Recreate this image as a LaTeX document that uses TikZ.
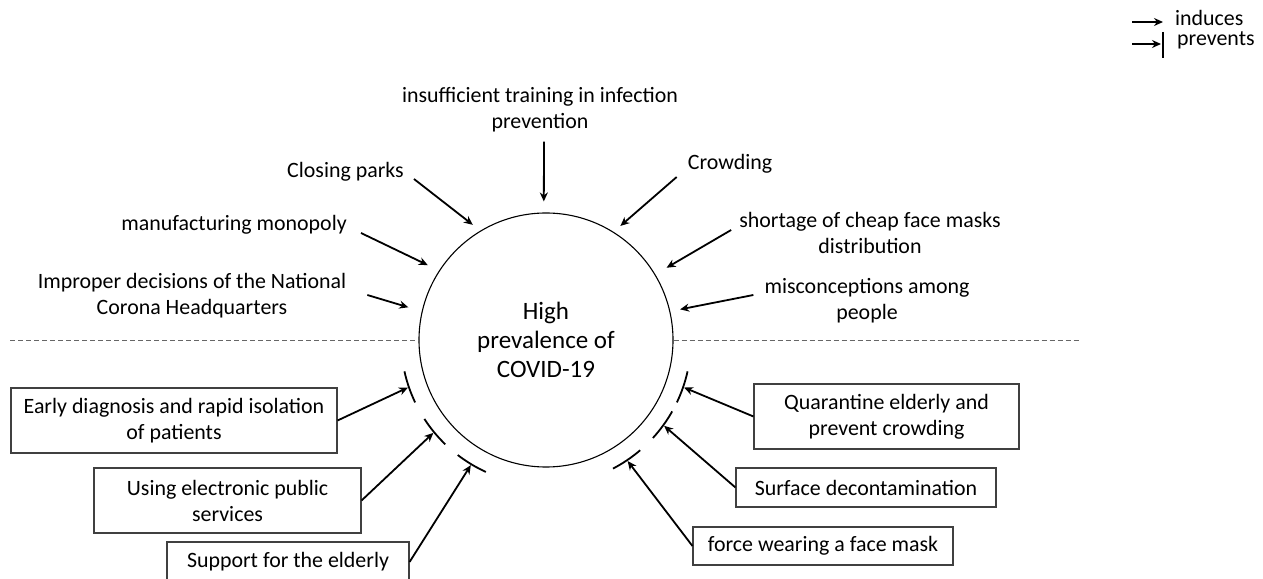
\documentclass[tikz,border=0pt]{standalone}
\usepackage{fontspec}
\setmainfont{Carlito}
\usetikzlibrary{arrows.meta,calc}
\begin{document}
\begin{tikzpicture}[x=1pt,y=1pt,
  txt/.style={inner sep=0pt, align=center, font=\fontsize{21.9}{26}\selectfont},
  box/.style={draw=black!75, line width=1.1pt, inner sep=0pt, align=center, font=\fontsize{21.9}{26}\selectfont},
  ind/.style={line width=1.8pt, -{Stealth[length=9pt,width=8pt]}},
  barc/.style={line width=1.8pt},
  dashline/.style={draw=black!60, line width=0.9pt, dash pattern=on 5pt off 3pt}
]
\fill[white] (0,0) rectangle (1263,578);
\useasboundingbox (0,0) rectangle (1263,578);

% central node
\node[circle, draw, line width=1.1pt, minimum size=254pt, inner sep=0pt, align=center,
      font=\fontsize{25}{29}\selectfont] (hp) at (546,238) {High\\prevalence of\\COVID-19};

% inducing factors
\node[txt] (ins) at (540,468) {insufficient training in infection\\prevention};
\node[txt] (cp) at (345.5,406) {Closing parks};
\node[txt] (cr) at (730,414) {Crowding};
\node[txt, anchor=east] (mm) at (347,353) {manufacturing monopoly};
\node[txt] (sh) at (870,345) {shortage of cheap face masks\\distribution};
\node[txt] (im) at (192,282) {Improper decisions of the National\\Corona Headquarters};
\node[txt] (mi) at (867,277.5) {misconceptions among\\people};

\draw[ind, shorten >=11pt] ([shift={(4,-9)}]ins.south) -- (hp.91);
\draw[ind, shorten >=9.5pt] ([shift={(10,-7)}]cp.east) -- (hp.121.8);
\draw[ind, shorten >=9pt] ([shift={(-11,-13)}]cr.west) -- (hp.58.5);
\draw[ind, shorten >=12.5pt] ([shift={(14,-8)}]mm.east) -- (hp.147);
\draw[ind, shorten >=13pt] ([shift={(-8,3)}]sh.west) -- (hp.31.9);
\draw[ind, shorten >=14pt] ([shift={(21,1)}]im.east) -- (hp.167.3);
\draw[ind, shorten >=10pt] ([shift={(-11,5.5)}]mi.west) -- (hp.13.9);

% dashed separator
\coordinate (dl) at (10,238);
\coordinate (dr) at (1080,238);
\draw[dashline] (dl) -- (hp.west);
\draw[dashline] (hp.east) -- (dr);

% preventing factors
\node[box, minimum width=326pt, minimum height=65pt] (b1) at (174,157.5) {Early diagnosis and rapid isolation\\of patients};
\node[box, minimum width=267pt, minimum height=65pt] (b2) at (227.5,77.5) {Using electronic public\\services};
\node[box, minimum width=242pt, minimum height=40pt] (b3) at (288,16) {Support for the elderly};
\node[box, minimum width=265pt, minimum height=65pt] (b4) at (886.5,161.5) {Quarantine elderly and\\prevent crowding};
\node[box, minimum width=260pt, minimum height=39pt] (b5) at (866,90.5) {Surface decontamination};
\node[box, minimum width=260pt, minimum height=38pt] (b6) at (823,32) {force wearing a face mask};

\coordinate (p1) at ($(hp.center)+(199:146)$);
\coordinate (p2) at ($(hp.center)+(219.5:146)$);
\coordinate (p3) at ($(hp.center)+(239:146)$);
\coordinate (p4) at ($(hp.center)+(341:146)$);
\coordinate (p5) at ($(hp.center)+(324:146)$);
\coordinate (p6) at ($(hp.center)+(304:146)$);

\draw[ind] (b1.east) -- (p1);
\draw[ind] (b2.east) -- (p2);
\draw[ind] (b3.east) -- (p3);
\draw[ind] (b4.west) -- (p4);
\draw[ind] (b5.west) -- (p5);
\draw[ind] (b6.west) -- (p6);

\foreach \a in {199,219.5,239,341,324,304}
  \draw[barc] ($(hp.center)+({\a-6.5}:145)$) arc[start angle=\a-6.5, end angle=\a+6.5, radius=145];

% legend
\node[txt, anchor=west] (li) at (1175,560) {induces};
\node[txt, anchor=west] (lp) at (1177,538) {prevents};
\coordinate (la1) at (1132,556);
\coordinate (la2) at (1132,534);
\draw[ind] (la1) -- ([xshift=-12pt, yshift=-4pt]li.west);
\draw[ind] (la2) -- ([xshift=-16pt, yshift=-4pt]lp.west);
\draw[barc] ([xshift=-14pt, yshift=8pt]lp.west) -- ([xshift=-14pt, yshift=-18pt]lp.west);
\end{tikzpicture}
\end{document}
